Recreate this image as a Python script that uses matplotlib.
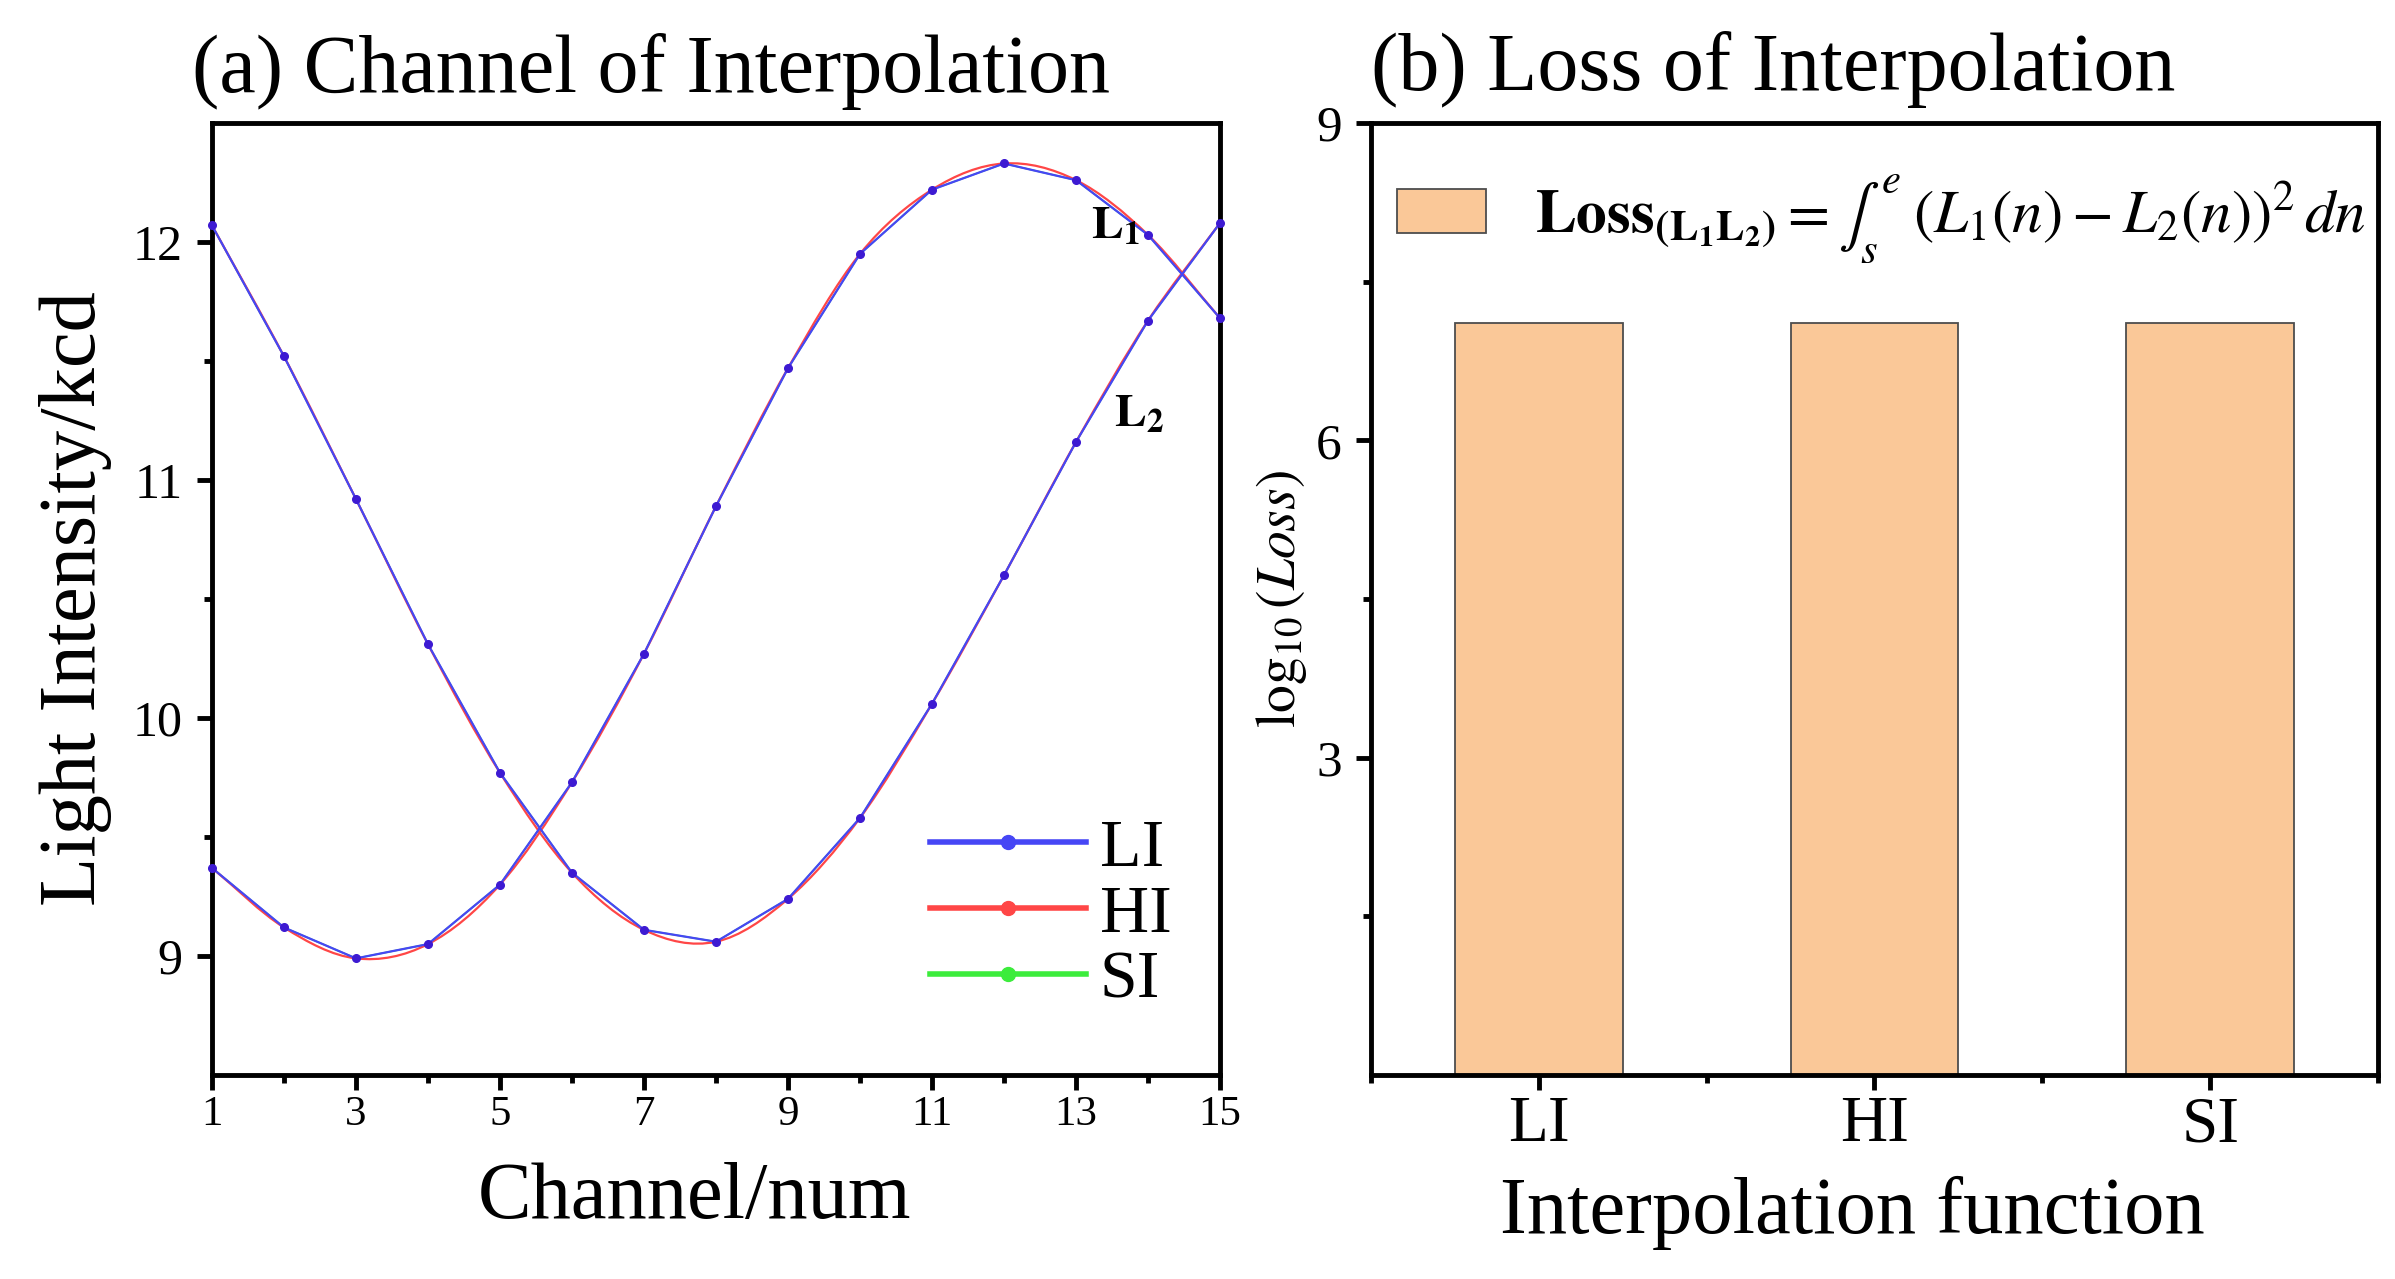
import numpy as np
import matplotlib.pyplot as plt
import matplotlib as mpl
from matplotlib.path import Path
from matplotlib.patches import PathPatch
from matplotlib.lines import Line2D

mpl.rcParams['font.family'] = ['Liberation Serif', 'DejaVu Serif']
mpl.rcParams['mathtext.fontset'] = 'stix'

# channel data (a)
channel = [1, 2, 3, 4, 5, 6, 7, 8, 9, 10, 11, 12, 13, 14, 15]
L1 = [9.37, 9.12, 8.99, 9.05, 9.30, 9.73, 10.27, 10.89, 11.47, 11.95,
      12.22, 12.33, 12.26, 12.03, 11.68]
L2 = [12.07, 11.52, 10.92, 10.31, 9.77, 9.35, 9.11, 9.06, 9.24, 9.58,
      10.06, 10.60, 11.16, 11.67, 12.08]
# loss data (b)
methods = ['LI', 'HI', 'SI']
log_loss = [7.11, 7.11, 7.11]

c_li = '#4646f5'
c_hi = '#ff4646'
c_si = '#3cec3c'
c_mk = '#3d1ad2'
c_bar = '#fac898'


def hermite_path(x, y):
    # cubic hermite segments as bezier curves (tangents from finite differences)
    x = np.asarray(x, float)
    y = np.asarray(y, float)
    m = np.gradient(y, x)
    verts = [(x[0], y[0])]
    codes = [Path.MOVETO]
    for i in range(len(x) - 1):
        h = x[i + 1] - x[i]
        verts += [(x[i] + h / 3, y[i] + m[i] * h / 3),
                  (x[i + 1] - h / 3, y[i + 1] - m[i + 1] * h / 3),
                  (x[i + 1], y[i + 1])]
        codes += [Path.CURVE4] * 3
    return Path(verts, codes)


fig = plt.figure(figsize=(23.95, 12.79), dpi=100)
ax1 = fig.add_axes([0.0885, 0.1595, 0.4209, 0.7443])
ax2 = fig.add_axes([0.5724, 0.1595, 0.4205, 0.7443])

for ax in (ax1, ax2):
    for s in ax.spines.values():
        s.set_linewidth(3.5)
    ax.tick_params(which='major', direction='out', length=11, width=3.5)
    ax.tick_params(which='minor', direction='out', length=5.5, width=3.5)

# ---------- (a)
for yy in (L1, L2):
    ax1.plot(channel, yy, color=c_si, lw=1.2, zorder=1)
    ax1.add_patch(PathPatch(hermite_path(channel, yy), facecolor='none',
                            edgecolor=c_hi, lw=1.6, zorder=2))
    ax1.plot(channel, yy, color=c_li, lw=1.6, marker='o', ms=5.5,
             mfc=c_mk, mec=c_mk, zorder=3, clip_on=False)

ax1.set_xlim(1, 15)
ax1.set_ylim(8.5, 12.5)
ax1.set_xticks(range(1, 16, 2))
ax1.set_xticks(range(2, 15, 2), minor=True)
ax1.set_yticks([9, 10, 11, 12])
ax1.set_yticks([9.5, 10.5, 11.5], minor=True)
ax1.tick_params(axis='x', labelsize=31, pad=4)
ax1.tick_params(axis='y', labelsize=36, pad=10)

ax1.text(13.55, 12.06, r'$\mathbf{L_1}$', fontsize=34, ha='center', va='center')
ax1.text(13.88, 11.27, r'$\mathbf{L_2}$', fontsize=34, ha='center', va='center')

handles = [Line2D([], [], color=c_li, lw=4, marker='o', ms=10),
           Line2D([], [], color=c_hi, lw=4, marker='o', ms=10),
           Line2D([], [], color=c_si, lw=4, marker='o', ms=10)]
ax1.legend(handles, methods, loc='center left', bbox_to_anchor=(0.712, 0.168),
           frameon=False, fontsize=49, handlelength=2.3, handletextpad=0.2,
           labelspacing=0.06, borderpad=0, borderaxespad=0)

ax1.set_xlabel('Channel/num', fontsize=58)
ax1.xaxis.set_label_coords(0.479, -0.091)
ax1.set_ylabel('Light Intensity/kcd', fontsize=58)
ax1.yaxis.set_label_coords(-0.099, 0.5)
ax1.text(-0.02, 1.033, '(a) Channel of Interpolation', fontsize=59,
         transform=ax1.transAxes, ha='left', va='baseline')

# ---------- (b)
xpos = np.arange(len(methods))
ax2.bar(xpos, log_loss, width=0.5, color=c_bar, edgecolor='#4d4d4d', lw=1.3,
        label=r'$\mathbf{Loss_{(L_1L_2)}} = \int_s^e\;(L_1(n) - L_2(n))^2\,dn$')
ax2.set_xlim(-0.5, 2.5)
ax2.set_ylim(0, 9)
ax2.set_xticks(xpos)
ax2.set_xticklabels(methods)
ax2.set_xticks([-0.5, 0.5, 1.5, 2.5], minor=True)
ax2.set_yticks([3, 6, 9])
ax2.set_yticks([1.5, 4.5, 7.5], minor=True)
ax2.tick_params(axis='x', labelsize=47, pad=4)
ax2.tick_params(axis='y', labelsize=37, pad=10)

ax2.legend(loc='center left', bbox_to_anchor=(0.026, 0.899), frameon=False,
           fontsize=44, handlelength=1.45, handleheight=0.72, handletextpad=0.8,
           borderpad=0, borderaxespad=0)

ax2.set_xlabel('Interpolation function', fontsize=58)
ax2.xaxis.set_label_coords(0.478, -0.106)
ax2.set_ylabel(r'$\log_{10}(Loss)$', fontsize=40)
ax2.yaxis.set_label_coords(-0.061, 0.5)
ax2.text(0.0, 1.035, '(b) Loss of Interpolation', fontsize=59,
         transform=ax2.transAxes, ha='left', va='baseline')

fig.savefig('out.png', dpi=100)
